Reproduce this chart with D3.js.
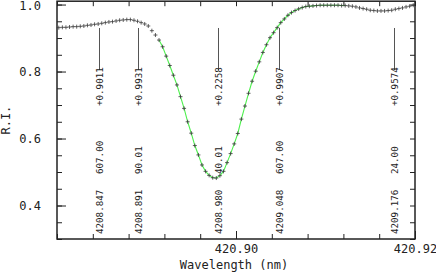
<!DOCTYPE html>
<html>
<head>
<meta charset="utf-8">
<script src="https://cdn.jsdelivr.net/npm/d3@7"></script>
<style>
  body { margin: 0; background: #fff; }
  text { font-family: "DejaVu Sans Mono", monospace; fill: #222; }
</style>
</head>
<body>
<div id="chart"></div>
<script>
// observed spectrum, sampled every 0.0004 nm starting at 420.8802 nm
var waveStart = 420.8802, waveStep = 0.0004;
var relIntensity = [
  0.931, 0.932, 0.932, 0.933, 0.934, 0.934, 0.935, 0.936, 0.938, 0.939,
  0.941, 0.942, 0.944, 0.946, 0.948, 0.949, 0.951, 0.953, 0.954, 0.955,
  0.955, 0.953, 0.950, 0.946, 0.942, 0.936, 0.922, 0.909, 0.894, 0.874,
  0.846, 0.818, 0.789, 0.760, 0.725, 0.690, 0.650, 0.616, 0.579, 0.551,
  0.521, 0.502, 0.490, 0.483, 0.482, 0.489, 0.502, 0.528, 0.555, 0.584,
  0.615, 0.658, 0.697, 0.735, 0.771, 0.801, 0.829, 0.857, 0.880, 0.901,
  0.916, 0.931, 0.946, 0.957, 0.968, 0.976, 0.982, 0.987, 0.991, 0.994,
  0.995, 0.996, 0.997, 0.998, 0.998, 0.998, 0.998, 0.998, 0.998, 0.997,
  0.997, 0.996, 0.995, 0.993, 0.990, 0.988, 0.986, 0.983, 0.982, 0.981,
  0.981, 0.981, 0.982, 0.983, 0.986, 0.988, 0.990, 0.993, 0.995, 0.998
];
// wavelength range covered by the fitted profile (green)
var fitRange = [420.8912, 420.9122];

// line identifications
var lineWave = [420.8847, 420.8891, 420.8980, 420.9048, 420.9176];
var lineDepth = ["+0.9011", "+0.9931", "+0.2258", "+0.9907", "+0.9574"];
var lineStrength = ["607.00", "90.01", "40.01", "607.00", "24.00"];
var lineLabel = ["4208.847", "4208.891", "4208.980", "4209.048", "4209.176"];

var xMajor = [420.90, 420.92];
var yMajor = [0.4, 0.6, 0.8, 1.0];

function drawChart() {
  var spectrum = relIntensity.map(function(v, i) {
    return {w: waveStart + i * waveStep, v: v};
  });
  var fit = spectrum.filter(function(d) { return d.w >= fitRange[0] && d.w <= fitRange[1]; });

  var width = 436, height = 272;
  var mLeft = 57, mRight = 415, mTop = 1.2, mBottom = 239;

  var svg = d3.select("#chart").append("svg")
    .attr("width", width)
    .attr("height", height);

  var x = d3.scaleLinear().domain([420.88, 420.92]).range([mLeft, mRight]);
  var y = d3.scaleLinear().domain([0.3, 1.01]).range([mBottom, mTop]);

  var xMinor = d3.range(420.88, 420.9201, 0.004);
  var yMinor = d3.range(0.3, 1.001, 0.05);

  function strip(g) {
    g.select(".domain").remove();
    g.selectAll("line").attr("stroke", "#222").attr("stroke-width", 1);
  }

  // minor ticks
  svg.append("g").attr("transform", "translate(" + mLeft + ",0)")
    .call(d3.axisLeft(y).tickValues(yMinor).tickSize(-5).tickFormat("")).call(strip);
  svg.append("g").attr("transform", "translate(" + mRight + ",0)")
    .call(d3.axisRight(y).tickValues(yMinor).tickSize(-5).tickFormat("")).call(strip);
  svg.append("g").attr("transform", "translate(0," + mBottom + ")")
    .call(d3.axisBottom(x).tickValues(xMinor).tickSize(-5).tickFormat("")).call(strip);
  svg.append("g").attr("transform", "translate(0," + mTop + ")")
    .call(d3.axisTop(x).tickValues(xMinor).tickSize(-5).tickFormat("")).call(strip);

  // major ticks + labels
  var yAx = svg.append("g").attr("transform", "translate(" + mLeft + ",0)")
    .call(d3.axisLeft(y).tickValues(yMajor).tickSize(-9).tickPadding(16).tickFormat(d3.format(".1f")))
    .call(strip);
  yAx.selectAll("text").style("font-size", "12px").attr("fill", "#222");
  yAx.selectAll(".tick").filter(function(d) { return d === 1.0; })
    .select("text").attr("dy", "0.45em");

  var xAx = svg.append("g").attr("transform", "translate(0," + mBottom + ")")
    .call(d3.axisBottom(x).tickValues(xMajor).tickSize(-8).tickPadding(5).tickFormat(d3.format(".2f")))
    .call(strip);
  xAx.selectAll("text").style("font-size", "12px").attr("fill", "#222");

  // frame
  svg.append("rect")
    .attr("x", mLeft).attr("y", mTop)
    .attr("width", mRight - mLeft).attr("height", mBottom - mTop)
    .attr("fill", "none").attr("stroke", "#222").attr("stroke-width", 1.5);

  // axis titles
  svg.append("text")
    .attr("x", (mLeft + mRight) / 2 - 2)
    .attr("y", 268.5)
    .attr("text-anchor", "middle")
    .style("font-size", "12px")
    .text("Wavelength (nm)");

  svg.append("text")
    .attr("transform", "translate(10," + ((mTop + mBottom) / 2) + ") rotate(-90)")
    .attr("text-anchor", "middle")
    .style("font-size", "12px")
    .text("R.I.");

  // identification lines and labels
  var ids = lineWave.map(function(w, i) {
    return {w: w, depth: lineDepth[i], strength: lineStrength[i], label: lineLabel[i]};
  });

  svg.selectAll(".id-line")
    .data(ids)
    .enter()
    .append("line")
    .attr("class", "id-line")
    .attr("x1", function(d) { return Math.round(x(d.w)) + 0.5; })
    .attr("x2", function(d) { return Math.round(x(d.w)) + 0.5; })
    .attr("y1", y(0.93))
    .attr("y2", 70)
    .attr("stroke", "#555")
    .attr("stroke-width", 1);

  function rowLabels(key, yBase) {
    svg.selectAll(".lab-" + key)
      .data(ids)
      .enter()
      .append("text")
      .attr("class", "lab-" + key)
      .attr("transform", function(d) {
        return "translate(" + (Math.round(x(d.w)) + 1) + "," + yBase + ") rotate(-90)";
      })
      .attr("dy", "0.35em")
      .style("font-size", "9.2px")
      .text(function(d) { return d[key]; });
  }
  rowLabels("depth", 106);
  rowLabels("strength", 174);
  rowLabels("label", 234);

  // fitted profile
  svg.append("path")
    .datum(fit)
    .attr("fill", "none")
    .attr("stroke", "#4df04d")
    .attr("stroke-width", 1.1)
    .attr("d", d3.line().x(function(d) { return x(d.w); }).y(function(d) { return y(d.v); }));

  // observed points
  svg.selectAll(".pt")
    .data(spectrum)
    .enter()
    .append("path")
    .attr("class", "pt")
    .attr("transform", function(d) { return "translate(" + x(d.w) + "," + y(d.v) + ")"; })
    .attr("d", "M-2,0H2M0,-2V2")
    .attr("stroke", "#3a3a3a")
    .attr("stroke-width", 0.8);
}

drawChart();
</script>
</body>
</html>
